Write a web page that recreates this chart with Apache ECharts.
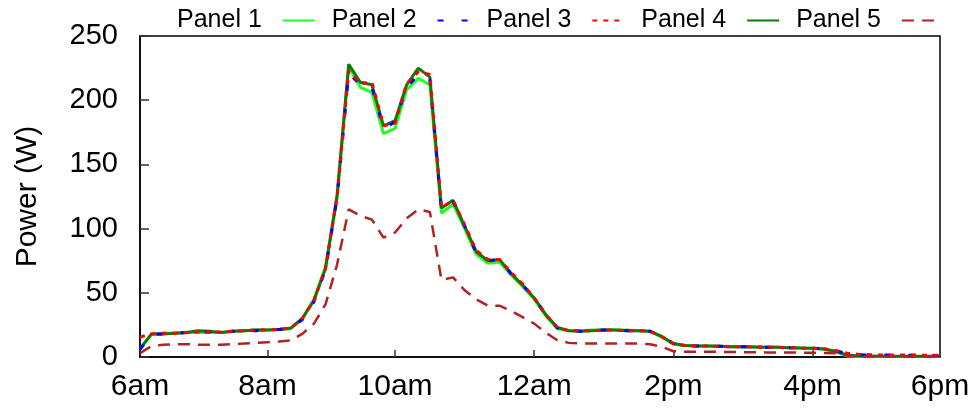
<!DOCTYPE html>
<html>
<head>
<meta charset="utf-8">
<script src="https://cdn.jsdelivr.net/npm/echarts@6/dist/echarts.min.js"></script>
<style>
  html, body { margin: 0; padding: 0; background: #fff; }
  #chart { width: 976px; height: 411px; }
</style>
</head>
<body>
<div id="chart"></div>
<script>
// Power per panel, one sample every ten minutes-ish from 6am to 6pm (sample index 0..69)
const panel1 = [6, 18, 18.5, 18.5, 19, 19, 19, 19, 20, 20.5, 21, 21, 21.5, 22, 30, 45, 70, 124, 226, 210, 206, 174, 178, 208, 217, 212, 112, 119, 100, 80, 73, 74, 64, 55, 45, 32, 22, 20.5, 20.5, 21, 21, 21, 21, 20.5, 20, 15.5, 10, 9, 8.5, 8.5, 8.3, 8, 8, 7.8, 7.6, 7.5, 7.3, 7, 6.8, 6, 4, 0.8, 0.3, 0.3, 0.3, 0.3, 0.3, 0.3, 0.3, 0.3];
const panel2 = [6, 17.5, 18, 18.5, 19, 19.5, 19.5, 19, 20, 20.5, 20.5, 21, 21.5, 22.5, 29, 43, 68, 124, 221, 212, 210, 178, 183, 210, 220, 216, 115, 121, 102, 81, 75, 76, 65, 56, 46, 33, 22.5, 20.5, 20, 20.5, 21, 21, 20.5, 20.5, 20, 16, 10.5, 9, 8.5, 8.5, 8.3, 8, 8, 7.8, 7.6, 7.5, 7.3, 7, 6.8, 6.5, 5, 2.5, 1.8, 1.5, 1.5, 1.5, 1.3, 1.3, 1.2, 1.2];
const panel3 = [15.5, 18, 18.5, 18.5, 19, 19.5, 19.5, 19.5, 20, 20.5, 21, 21, 21.5, 22.5, 30, 44, 69, 125, 223, 213, 214, 180, 182, 213, 222, 220, 116, 122, 103, 83, 76, 76, 66, 57, 46, 33, 22.5, 20.5, 20.5, 20.5, 21, 21, 20.5, 20.5, 20, 16, 10.5, 9, 8.5, 8.5, 8.3, 8, 8, 7.8, 7.6, 7.5, 7.3, 7, 6.8, 6.5, 5, 3, 2, 1.8, 1.5, 1.5, 1.5, 1.5, 1.3, 1.3];
const panel4 = [6.5, 18, 18, 18.5, 19, 20.5, 20, 19, 20, 20.5, 21, 21, 21.5, 22.5, 30, 44, 69, 126, 228, 214, 212, 180, 184, 212, 225, 218, 116, 122, 102, 82, 75, 76, 65, 56, 46, 33, 23, 20.5, 20, 20.5, 21, 21, 20.5, 20.5, 20, 16, 10.5, 9, 8.5, 8.5, 8.3, 8, 8, 7.8, 7.6, 7.5, 7.3, 7, 6.8, 6.2, 4.5, 1.5, 0.8, 0.7, 0.6, 0.5, 0.5, 0.5, 0.5, 0.5];
const panel5 = [3, 8.5, 9.5, 10, 10, 9.5, 9.5, 9.5, 10, 10.5, 11, 11.5, 12, 13, 18, 26, 41, 72, 115, 110, 107, 93, 97, 108, 115, 113, 60, 62, 52, 45, 40, 40, 36, 31, 26, 19, 13, 11, 10.5, 10.5, 10.5, 10.5, 10.5, 10.5, 10, 8, 4.5, 4, 4, 4, 4, 3.8, 3.8, 3.7, 3.6, 3.5, 3.5, 3.4, 3.3, 3.2, 3, 1, 0.3, 0.3, 0.3, 0.3, 0.3, 0.3, 0.3, 0.3];

// Hour labels sit on particular sample indices
const tickIndex = [0, 11, 22, 34, 46, 58, 69];
const tickLabels = ['6am', '8am', '10am', '12am', '2pm', '4pm', '6pm'];
const seriesNames = ['Panel 1', 'Panel 2', 'Panel 3', 'Panel 4', 'Panel 5'];

const toPoints = arr => arr.map((v, i) => [i, v]);
const FONT = 'Liberation Sans, Arial, Helvetica, sans-serif';

const styles = [
  { color: '#22ff22', width: 3, type: 'solid', z: 2 },
  { color: '#0000ff', width: 3, type: [6, 18], z: 4 },
  { color: '#ff0000', width: 3, type: [5, 6], z: 5 },
  { color: '#0a7a0a', width: 3, type: 'solid', z: 3 },
  { color: '#b22222', width: 2.5, type: [12, 8], z: 6 }
];
const allData = [panel1, panel2, panel3, panel4, panel5];

const chart = echarts.init(document.getElementById('chart'), null, { renderer: 'canvas' });
chart.setOption({
  animation: false,
  backgroundColor: '#fff',
  legend: {
    top: 3,
    left: 172,
    align: 'right',
    itemWidth: 32,
    itemHeight: 10,
    itemGap: 16,
    itemStyle: { opacity: 0 },
    textStyle: { fontFamily: FONT, fontSize: 25, color: '#000', padding: [0, 16, 0, 0] },
    data: seriesNames
  },
  grid: {
    left: 140, right: 36, top: 36, bottom: 54,
    show: true, borderColor: '#000', borderWidth: 1.5, backgroundColor: 'transparent'
  },
  xAxis: {
    type: 'value',
    min: 0, max: 69,
    axisLine: { lineStyle: { color: '#000', width: 1.5 } },
    axisTick: { inside: true, length: 7, customValues: tickIndex.slice(1, -1), lineStyle: { color: '#333', width: 1.5 } },
    axisLabel: {
      customValues: tickIndex,
      formatter: v => tickLabels[tickIndex.indexOf(v)] || '',
      fontFamily: FONT, fontSize: 30, color: '#000', margin: 15
    },
    splitLine: { show: false }
  },
  yAxis: {
    type: 'value',
    min: 0, max: 250, interval: 50,
    name: 'Power (W)',
    nameLocation: 'middle',
    nameGap: 97,
    nameTextStyle: { fontFamily: FONT, fontSize: 30, color: '#000' },
    axisLine: { show: true, lineStyle: { color: '#000', width: 1.5 } },
    axisTick: { inside: true, length: 9, lineStyle: { color: '#333', width: 1.5 } },
    axisLabel: { fontFamily: FONT, fontSize: 29, color: '#000', margin: 22 },
    splitLine: { show: false }
  },
  series: allData.map((d, k) => ({
    name: seriesNames[k],
    type: 'line',
    symbol: 'none',
    z: styles[k].z,
    data: toPoints(d),
    lineStyle: { color: styles[k].color, width: styles[k].width, type: styles[k].type },
    itemStyle: { color: styles[k].color }
  }))
});
</script>
</body>
</html>
